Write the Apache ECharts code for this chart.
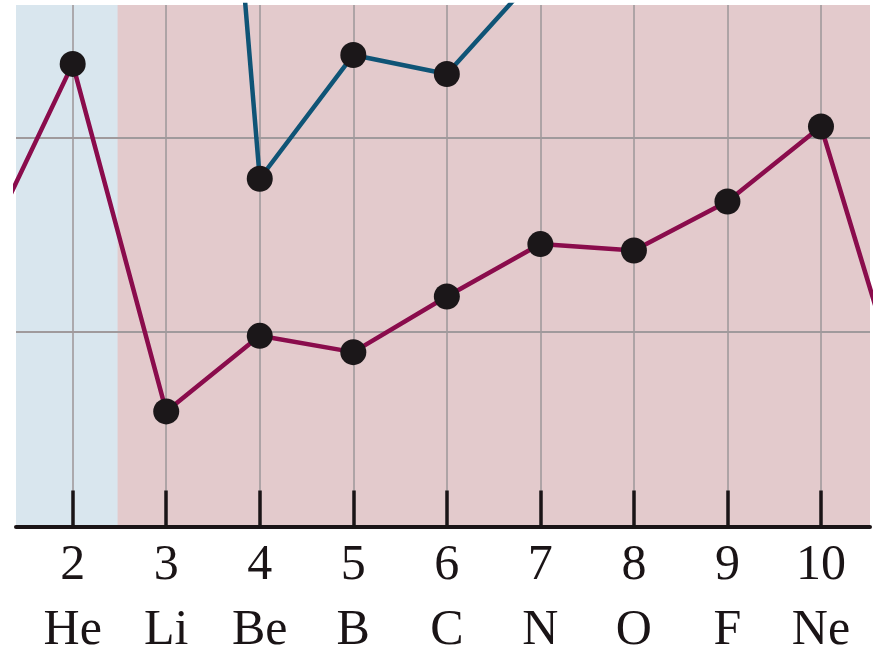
<!DOCTYPE html>
<html>
<head>
<meta charset="utf-8">
<script src="https://cdn.jsdelivr.net/npm/echarts@6/dist/echarts.min.js"></script>
<style>
  html, body { margin: 0; padding: 0; background: #ffffff; }
  #chart { width: 874px; height: 651px; }
</style>
</head>
<body>
<div id="chart"></div>
<script>
// Ionization energies (kJ/mol) across the first period elements
const atomicNumbers = [1, 2, 3, 4, 5, 6, 7, 8, 9, 10, 11];
const symbols = ['H', 'He', 'Li', 'Be', 'B', 'C', 'N', 'O', 'F', 'Ne', 'Na'];
const firstIE = [1370, 2380, 592, 981, 897, 1183, 1453, 1420, 1672, 2058, 470];

const secondAtoms = [3, 4, 5, 6, 7];
const secondIE = [7600, 1789, 2426, 2328, 2860];

const tickValues = [2, 3, 4, 5, 6, 7, 8, 9, 10];
const energyTicks = [1000, 2000];

// shaded blocks: noble gas column and the second period
const blocks = [
  { from: 1.394, to: 2.48, color: '#d9e6ee' },
  { from: 2.48, to: 10.524, color: '#e3cacc' }
];

const serif = '"Liberation Serif", "DejaVu Serif", serif';

const chart = echarts.init(document.getElementById('chart'), null, { renderer: 'canvas' });

const pairs = (xs, ys) => xs.map((x, i) => [x, ys[i]]);

chart.setOption({
  animation: false,
  backgroundColor: '#ffffff',
  grid: {
    left: 16, right: 4, top: 5, bottom: 124.5,
    outerBoundsMode: 'none',
    containLabel: false,
    show: true, borderWidth: 0, backgroundColor: blocks[1].color
  },
  xAxis: {
    type: 'value',
    min: 1.394,
    max: 10.524,
    z: 2,
    axisLine: { show: true, onZero: false, lineStyle: { color: '#1a1416', width: 4 } },
    axisTick: {
      show: true, inside: true, length: 36, customValues: tickValues,
      lineStyle: { color: '#1a1416', width: 3.5 }
    },
    axisLabel: {
      show: true, margin: 7, customValues: tickValues,
      formatter: v => '{n|' + v + '}\n{s|' + symbols[v - 1] + '}',
      rich: {
        n: { fontFamily: serif, fontSize: 50, lineHeight: 65, color: '#1a1416' },
        s: { fontFamily: serif, fontSize: 50, lineHeight: 65, color: '#1a1416' }
      }
    },
    splitLine: { show: true, lineStyle: { color: '#a09a9c', width: 1.6 } }
  },
  yAxis: {
    type: 'value',
    min: 0,
    max: 2683,
    interval: 1000,
    z: 2,
    axisLine: { show: false },
    axisTick: { show: false, customValues: energyTicks },
    axisLabel: { show: false },
    splitLine: { show: true, lineStyle: { color: '#a09a9c', width: 2 } }
  },
  series: [
    {
      name: 'first',
      type: 'line',
      z: 3,
      data: pairs(atomicNumbers, firstIE),
      clip: true,
      symbol: 'circle',
      symbolSize: 26,
      itemStyle: { color: '#1b1719' },
      lineStyle: { color: '#8a0c4c', width: 4.5 },
      markArea: {
        silent: true,
        data: [[
          { xAxis: blocks[0].from, itemStyle: { color: blocks[0].color } },
          { xAxis: blocks[0].to }
        ]]
      }
    },
    {
      name: 'second',
      type: 'line',
      z: 3,
      data: pairs(secondAtoms, secondIE),
      clip: true,
      symbol: 'circle',
      symbolSize: 26,
      itemStyle: { color: '#1b1719' },
      lineStyle: { color: '#0f5476', width: 4.5 }
    }
  ]
});
</script>
</body>
</html>
